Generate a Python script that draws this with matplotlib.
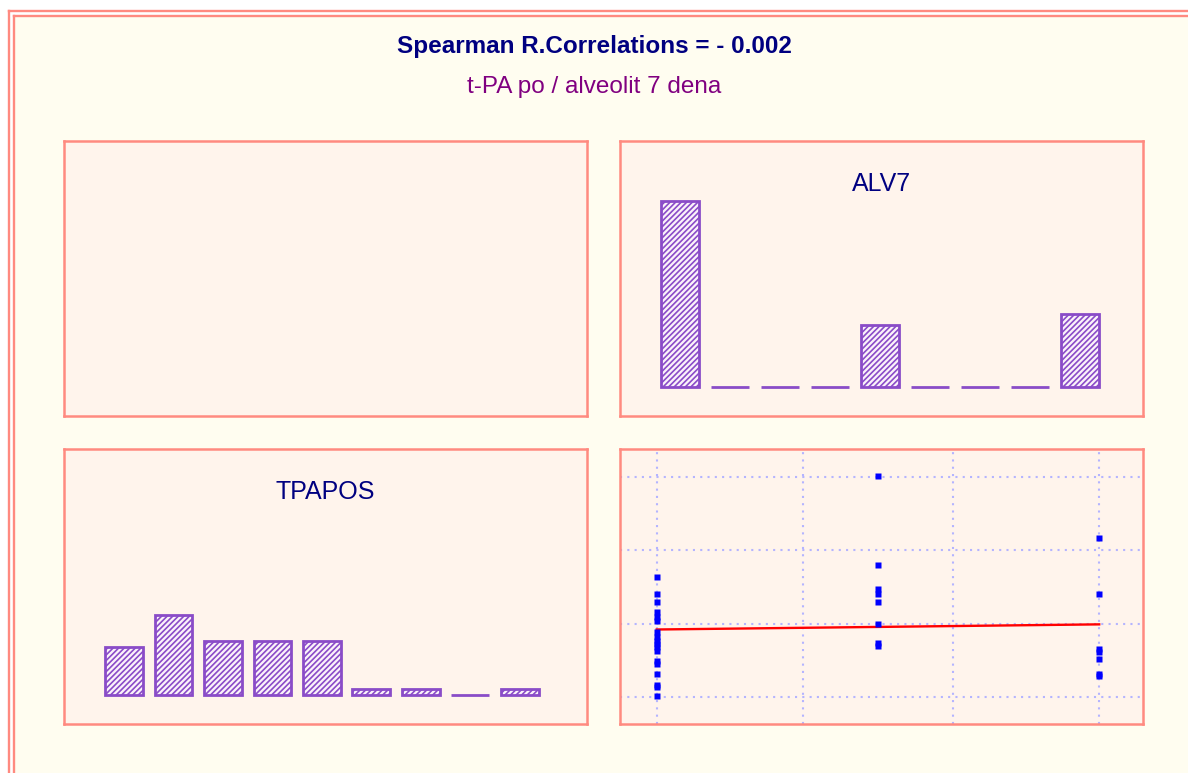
import matplotlib
matplotlib.use('Agg')
from matplotlib import pyplot as plt
from matplotlib.patches import Rectangle
from matplotlib.lines import Line2D
import numpy as np

# histogram data (counts per bin)
alv7_counts = [33, 0, 0, 0, 11, 0, 0, 0, 13]
tpapos_counts = [9, 15, 10, 10, 10, 1, 1, 0, 1]

# scatter data: ALV7 (x) vs TPAPOS (y)
alv7_vals = [0] * 18 + [1] * 8 + [2] * 7
tpapos_vals = [16.4, 14.0, 12.9, 11.6, 10.95, 10.3, 8.8, 8.2, 7.6, 7.2, 6.85, 6.3,
               4.9, 4.5, 3.2, 1.7, 1.4, 0.2,
               30.1, 18.0, 14.7, 14.05, 13.0, 10.0, 7.3, 6.9,
               21.7, 14.0, 6.6, 6.2, 5.2, 3.2, 2.8]
fit_x = [0, 2]
fit_y = [9.2, 9.9]
grid_x = [0, 0.66, 1.34, 2.0]
grid_y = [0, 10, 20, 30]

title = "Spearman R.Correlations = - 0.002"
subtitle = "t-PA po / alveolit 7 dena"

W, H = 1188, 773
CREAM = '#FFFDF0'
PANEL = '#FFF4EC'
SALMON = '#FF8A80'
PURPLE = '#8A4CC8'

plt.rcParams['font.family'] = ['Liberation Sans', 'DejaVu Sans']
plt.rcParams['hatch.linewidth'] = 1.2

fig = plt.figure(figsize=(W / 100, H / 100), dpi=100, facecolor='white')


def fx(px):  # pixel x -> figure fraction
    return px / W


def fy(py):  # pixel y (from top) -> figure fraction
    return 1 - py / H


# cream background with double frame
fig.patches.append(Rectangle((fx(14), 0), 1, fy(16.5), transform=fig.transFigure,
                             facecolor=CREAM, edgecolor='none', zorder=-2))
for p in [9, 14]:
    fig.lines.append(Line2D([fx(p), fx(p)], [0, fy(p + 2)], transform=fig.transFigure,
                            color=SALMON, lw=1.7, zorder=-1))
    fig.lines.append(Line2D([fx(p), 1], [fy(p + 2), fy(p + 2)], transform=fig.transFigure,
                            color=SALMON, lw=1.7, zorder=-1))

fig.text(0.5, fy(46), title, ha='center', va='center', fontsize=17.5,
         fontweight='bold', color='#000080')
fig.text(0.5, fy(87), subtitle, ha='center', va='center', fontsize=17.5,
         color='#800080')


def panel(x0, y0):
    ax = fig.add_axes([fx(x0), fy(y0 + 275), 523 / W, 275 / H], facecolor=PANEL)
    for s in ax.spines.values():
        s.set_color(SALMON)
        s.set_linewidth(1.8)
    ax.set_xticks([])
    ax.set_yticks([])
    return ax


def histPanel(ax, counts, name, xlim, ylim):
    bins = np.arange(len(counts))
    ax.bar(bins, counts, width=0.76, facecolor='#FBF3FA', edgecolor=PURPLE,
           linewidth=2, hatch='//////')
    ax.set_xlim(*xlim)
    ax.set_ylim(*ylim)
    ax.text(0.5, 0.842, name, transform=ax.transAxes, ha='center', va='center',
            fontsize=18, color='#000080')


panel(64, 141)  # empty panel

ax = panel(620, 141)
histPanel(ax, alv7_counts, 'ALV7', (-1.206, 9.254), (-5.2, 43.66))

ax = panel(64, 449)
histPanel(ax, tpapos_counts, 'TPAPOS', (-1.21, 9.36), (-5.5, 46.1))

ax = panel(620, 449)
ax.set_xlim(-0.166, 2.198)
ax.set_ylim(-3.68, 33.8)
for g in grid_x:
    ax.axvline(g, color='#B4B4FF', lw=1.5, ls=(0, (1, 2.5)), zorder=1)
for g in grid_y:
    ax.axhline(g, color='#B4B4FF', lw=1.5, ls=(0, (1, 2.5)), zorder=1)
ax.plot(alv7_vals, tpapos_vals, 's', color='#0000FF', ms=4.2, mec='none', zorder=3)
ax.plot(fit_x, fit_y, color='#FF0000', lw=1.7, zorder=2)

plt.savefig('out.png', dpi=100)
